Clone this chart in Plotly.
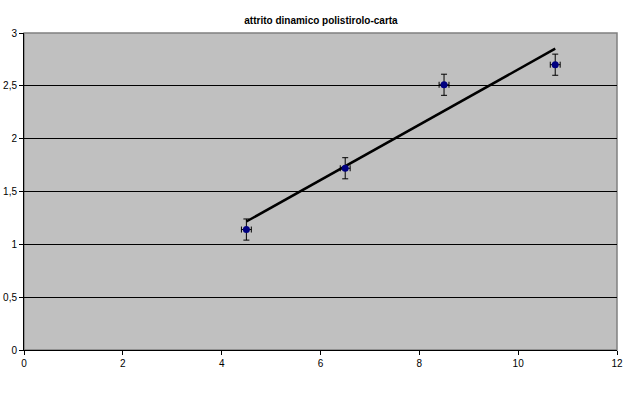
import numpy as np
import plotly.graph_objects as go

# Data
x_vals = [4.5, 6.5, 8.5, 10.75]
y_vals = [1.14, 1.72, 2.51, 2.70]
x_err = [0.1, 0.1, 0.1, 0.1]
y_err = [0.1, 0.1, 0.1, 0.1]
title_text = "attrito dinamico polistirolo-carta"
x_ticks = [0, 2, 4, 6, 8, 10, 12]
y_ticks = [0, 0.5, 1, 1.5, 2, 2.5, 3]

# Linear trend line (least-squares fit of the data)
slope, intercept = np.polyfit(x_vals, y_vals, 1)
trend_x = [min(x_vals), max(x_vals)]
trend_y = [slope * v + intercept for v in trend_x]

fig = go.Figure()
fig.add_trace(go.Scatter(
    x=trend_x, y=trend_y, mode="lines",
    line=dict(color="black", width=2.5), hoverinfo="skip", showlegend=False))
fig.add_trace(go.Scatter(
    x=x_vals, y=y_vals, mode="markers",
    marker=dict(symbol="circle", size=7, color="#000080", line=dict(width=0)),
    error_x=dict(type="data", array=x_err, color="black", thickness=1, width=3),
    error_y=dict(type="data", array=y_err, color="black", thickness=1, width=3),
    showlegend=False))

fig.add_shape(type="rect", xref="paper", yref="paper", x0=0, y0=0, x1=1, y1=1,
              line=dict(color="#808080", width=1.5), layer="below")

W, H = 642, 402
font = dict(family="Liberation Sans, Arial, sans-serif", size=10, color="black")
fig.update_layout(
    width=W, height=H,
    margin=dict(l=24, r=25, t=33, b=52, autoexpand=False),
    paper_bgcolor="white", plot_bgcolor="#C0C0C0",
    separators=",.",
    font=font,
    title=dict(text="<b>" + title_text + "</b>", x=0.5, xanchor="center",
               y=1 - 20 / H, yanchor="middle", yref="container", automargin=False,
               font=dict(family="Liberation Sans, Arial, sans-serif", size=10, color="black")),
    xaxis=dict(range=[0, 12], tickvals=x_ticks, showgrid=False, zeroline=False,
               showline=True, linecolor="black", linewidth=1, automargin=False,
               ticks="outside", ticklen=4, tickcolor="black", tickfont=font),
    yaxis=dict(range=[0, 3], tickvals=y_ticks, showgrid=True, gridcolor="black", gridwidth=1,
               zeroline=False, showline=True, linecolor="black", linewidth=1, automargin=False,
               ticks="outside", ticklen=4, tickcolor="black", tickfont=font),
)

fig.write_html("out.html",
               config={"displayModeBar": False},
               post_script="document.body.style.margin='0';document.body.style.overflow='hidden';")
